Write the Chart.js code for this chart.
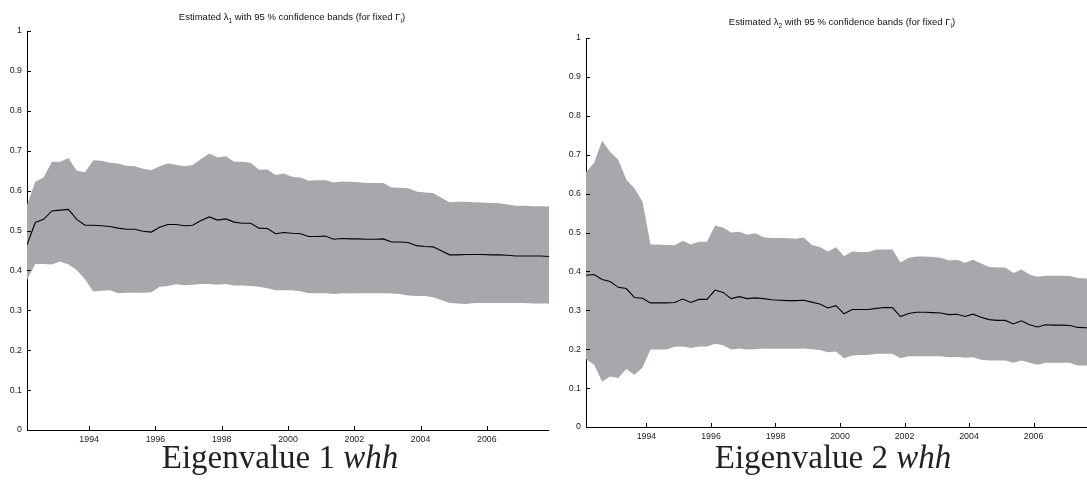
<!DOCTYPE html>
<html>
<head>
<meta charset="utf-8">
<script src="https://cdn.jsdelivr.net/npm/chart.js@4.4.1/dist/chart.umd.min.js"></script>
<style>
  html, body { margin: 0; padding: 0; background: #fff; overflow: hidden; width: 1087px; height: 492px; }
  canvas { position: absolute; top: 0; }
  .chart-title { position: absolute; font-family: "Liberation Sans", Arial, sans-serif; font-size: 9.5px; line-height: 12px; color: #111; white-space: nowrap; transform: translateX(-50%); }
  .chart-title sub { font-size: 6.5px; line-height: 0; vertical-align: -3px; }
  .caption { position: absolute; font-family: "Liberation Serif", "DejaVu Serif", serif; font-size: 33px; line-height: 40px; color: #222; white-space: nowrap; transform: translateX(-50%); }
</style>
</head>
<body>
<canvas id="eigenChart1" width="549" height="492" style="left:0"></canvas>
<canvas id="eigenChart2" width="545" height="492" style="left:549px"></canvas>
<div class="chart-title" style="left:292px; top:11px">Estimated λ<sub>1</sub> with 95 % confidence bands (for fixed Γ<sub>i</sub>)</div>
<div class="chart-title" style="left:842px; top:16px">Estimated λ<sub>2</sub> with 95 % confidence bands (for fixed Γ<sub>i</sub>)</div>
<div class="caption" style="left:280px; top:437px">Eigenvalue 1 <i>whh</i></div>
<div class="caption" style="left:833px; top:437px">Eigenvalue 2 <i>whh</i></div>
<script>
// Quarterly observations (plotted at mid-quarter)
const quarters = [
  "1992Q1", "1992Q2", "1992Q3", "1992Q4", "1993Q1", "1993Q2", "1993Q3", "1993Q4",
  "1994Q1", "1994Q2", "1994Q3", "1994Q4", "1995Q1", "1995Q2", "1995Q3", "1995Q4",
  "1996Q1", "1996Q2", "1996Q3", "1996Q4", "1997Q1", "1997Q2", "1997Q3", "1997Q4",
  "1998Q1", "1998Q2", "1998Q3", "1998Q4", "1999Q1", "1999Q2", "1999Q3", "1999Q4",
  "2000Q1", "2000Q2", "2000Q3", "2000Q4", "2001Q1", "2001Q2", "2001Q3", "2001Q4",
  "2002Q1", "2002Q2", "2002Q3", "2002Q4", "2003Q1", "2003Q2", "2003Q3", "2003Q4",
  "2004Q1", "2004Q2", "2004Q3", "2004Q4", "2005Q1", "2005Q2", "2005Q3", "2005Q4",
  "2006Q1", "2006Q2", "2006Q3", "2006Q4", "2007Q1", "2007Q2", "2007Q3", "2007Q4",
];

// Tick labels
const yearTicks = [1994, 1996, 1998, 2000, 2002, 2004, 2006];
const valueTicks = [0, 0.1, 0.2, 0.3, 0.4, 0.5, 0.6, 0.7, 0.8, 0.9, 1];

// Eigenvalue 1: estimate and 95 % band
const lambda1Mean = [
  0.464, 0.520, 0.528, 0.549, 0.551, 0.553, 0.528, 0.513, 0.513, 0.512,
  0.510, 0.506, 0.503, 0.503, 0.498, 0.496, 0.508, 0.515, 0.515, 0.512,
  0.513, 0.525, 0.534, 0.526, 0.529, 0.521, 0.518, 0.518, 0.506, 0.505,
  0.492, 0.495, 0.493, 0.492, 0.485, 0.485, 0.486, 0.478, 0.480, 0.479,
  0.479, 0.478, 0.478, 0.479, 0.471, 0.471, 0.470, 0.462, 0.460, 0.459,
  0.449, 0.439, 0.439, 0.440, 0.440, 0.440, 0.439, 0.439, 0.438, 0.436,
  0.436, 0.436, 0.436, 0.435,
];
const lambda1Upper = [
  0.564, 0.622, 0.633, 0.672, 0.672, 0.682, 0.650, 0.646, 0.676, 0.675,
  0.670, 0.668, 0.662, 0.661, 0.655, 0.651, 0.661, 0.668, 0.665, 0.661,
  0.664, 0.679, 0.693, 0.683, 0.686, 0.672, 0.672, 0.670, 0.652, 0.653,
  0.639, 0.643, 0.635, 0.633, 0.625, 0.626, 0.626, 0.620, 0.623, 0.622,
  0.621, 0.619, 0.619, 0.619, 0.608, 0.607, 0.606, 0.598, 0.595, 0.594,
  0.582, 0.571, 0.572, 0.572, 0.571, 0.570, 0.569, 0.568, 0.565, 0.562,
  0.562, 0.561, 0.561, 0.560,
];
const lambda1Lower = [
  0.376, 0.416, 0.416, 0.415, 0.422, 0.415, 0.401, 0.378, 0.347, 0.349,
  0.350, 0.343, 0.344, 0.344, 0.344, 0.345, 0.359, 0.361, 0.365, 0.363,
  0.364, 0.366, 0.366, 0.364, 0.366, 0.362, 0.362, 0.361, 0.359, 0.355,
  0.350, 0.350, 0.350, 0.348, 0.343, 0.3425, 0.343, 0.341, 0.3425, 0.342,
  0.3425, 0.3425, 0.343, 0.3425, 0.342, 0.341, 0.337, 0.336, 0.336, 0.333,
  0.326, 0.318, 0.317, 0.316, 0.318, 0.318, 0.318, 0.318, 0.318, 0.318,
  0.318, 0.317, 0.317, 0.317,
];

// Eigenvalue 2: estimate and 95 % band
const lambda2Mean = [
  0.390, 0.392, 0.379, 0.374, 0.359, 0.356, 0.333, 0.331, 0.319, 0.319,
  0.319, 0.320, 0.329, 0.320, 0.328, 0.328, 0.352, 0.346, 0.330, 0.335,
  0.330, 0.332, 0.330, 0.327, 0.326, 0.325, 0.325, 0.326, 0.321, 0.316,
  0.306, 0.312, 0.291, 0.302, 0.302, 0.302, 0.305, 0.307, 0.307, 0.284,
  0.292, 0.295, 0.295, 0.294, 0.293, 0.289, 0.290, 0.284, 0.290, 0.282,
  0.276, 0.274, 0.274, 0.265, 0.273, 0.263, 0.257, 0.263, 0.262, 0.262,
  0.261, 0.256, 0.255, 0.254,
];
const lambda2Upper = [
  0.655, 0.679, 0.736, 0.707, 0.687, 0.636, 0.614, 0.580, 0.469, 0.469,
  0.468, 0.467, 0.479, 0.469, 0.476, 0.476, 0.518, 0.513, 0.500, 0.502,
  0.494, 0.498, 0.488, 0.486, 0.486, 0.485, 0.484, 0.487, 0.468, 0.463,
  0.451, 0.462, 0.439, 0.451, 0.450, 0.450, 0.456, 0.456, 0.456, 0.423,
  0.435, 0.438, 0.438, 0.437, 0.435, 0.428, 0.430, 0.422, 0.430, 0.420,
  0.411, 0.410, 0.410, 0.396, 0.405, 0.392, 0.386, 0.389, 0.389, 0.389,
  0.388, 0.383, 0.382, 0.381,
];
const lambda2Lower = [
  0.175, 0.160, 0.117, 0.130, 0.126, 0.149, 0.134, 0.152, 0.199, 0.199,
  0.199, 0.206, 0.207, 0.203, 0.207, 0.207, 0.214, 0.210, 0.199, 0.202,
  0.199, 0.200, 0.202, 0.201, 0.201, 0.201, 0.201, 0.202, 0.200, 0.198,
  0.192, 0.194, 0.177, 0.184, 0.185, 0.185, 0.188, 0.188, 0.188, 0.177,
  0.182, 0.182, 0.182, 0.182, 0.182, 0.179, 0.180, 0.178, 0.179, 0.173,
  0.171, 0.171, 0.171, 0.165, 0.171, 0.165, 0.160, 0.165, 0.165, 0.165,
  0.165, 0.158, 0.158, 0.157,
];

const BAND_GREY = "#a7a8ab";
const TICK_FONT = { family: "'Liberation Sans', Arial, sans-serif", size: 8.8 };

// "1993Q2" -> 1993.375 (middle of the quarter)
const quarterToYear = (q) => Number(q.slice(0, 4)) + (Number(q.slice(5)) - 0.5) / 4;

const toPoints = (values) => values.map((v, i) => ({ x: quarterToYear(quarters[i]), y: v }));

// MATLAB-style ticks that point into the plot area
const inwardTicks = {
  id: "inwardTicks",
  afterDraw: (chart) => {
    const { ctx, chartArea, scales } = chart;
    ctx.save();
    ctx.strokeStyle = "#000";
    ctx.lineWidth = 1;
    ctx.beginPath();
    scales.x.ticks.forEach((t) => {
      const px = Math.round(scales.x.getPixelForValue(t.value)) + 0.5;
      ctx.moveTo(px, chartArea.bottom);
      ctx.lineTo(px, chartArea.bottom - 4);
    });
    scales.y.ticks.forEach((t) => {
      const py = Math.round(scales.y.getPixelForValue(t.value)) + 0.5;
      ctx.moveTo(chartArea.left, py);
      ctx.lineTo(chartArea.left + 4, py);
    });
    ctx.stroke();
    ctx.restore();
  },
};

// Build one band chart; the box sizes put the plot area where the figure has it
const createBandChart = (canvasId, mean, upper, lower, box) => {
  new Chart(document.getElementById(canvasId), {
    type: "line",
    data: {
      datasets: [
        {
          label: "estimate",
          data: toPoints(mean),
          borderColor: "#000",
          borderWidth: 1.1,
          pointRadius: 0,
          fill: false,
        },
        {
          label: "upper",
          data: toPoints(upper),
          borderWidth: 0,
          pointRadius: 0,
          backgroundColor: BAND_GREY,
          fill: "+1", // fill down to the lower bound
        },
        {
          label: "lower",
          data: toPoints(lower),
          borderWidth: 0,
          pointRadius: 0,
          fill: false,
        },
      ],
    },
    options: {
      responsive: false,
      animation: false,
      layout: { padding: { top: box.top, left: 0, right: 0, bottom: 0 } },
      plugins: { legend: { display: false }, tooltip: { enabled: false } },
      scales: {
        x: {
          type: "linear",
          min: quarterToYear(quarters[0]),
          max: quarterToYear(quarters[quarters.length - 1]),
          afterBuildTicks: (scale) => { scale.ticks = yearTicks.map((v) => ({ value: v })); },
          afterFit: (scale) => { scale.height = box.xHeight; },
          grid: { display: false, drawTicks: false },
          border: { display: true, color: "#000", width: 1 },
          ticks: { font: TICK_FONT, color: "#1a1a1a", padding: 4, maxRotation: 0, callback: (v) => String(v) },
        },
        y: {
          min: 0,
          max: 1,
          afterBuildTicks: (scale) => { scale.ticks = valueTicks.map((v) => ({ value: v })); },
          afterFit: (scale) => { scale.width = box.yWidth; },
          grid: { display: false, drawTicks: false },
          border: { display: true, color: "#000", width: 1 },
          ticks: { font: TICK_FONT, color: "#1a1a1a", padding: 5, callback: (v) => String(v) },
        },
      },
    },
    plugins: [inwardTicks],
  });
};

createBandChart("eigenChart1", lambda1Mean, lambda1Upper, lambda1Lower, { top: 31, yWidth: 27, xHeight: 62 });
createBandChart("eigenChart2", lambda2Mean, lambda2Upper, lambda2Lower, { top: 38, yWidth: 37, xHeight: 65 });
</script>
</body>
</html>
